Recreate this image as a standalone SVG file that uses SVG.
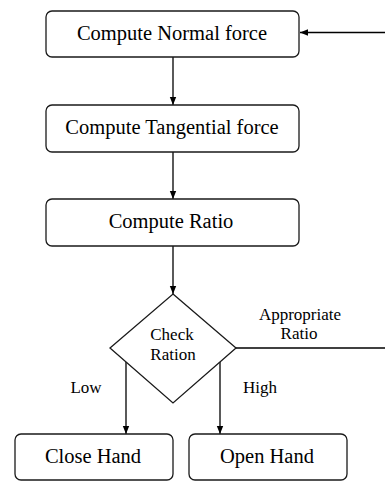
<svg xmlns="http://www.w3.org/2000/svg" width="385" height="481" viewBox="0 0 385 481">
<defs>
<marker id="ah" markerWidth="8" markerHeight="8" refX="8" refY="4" orient="auto" markerUnits="userSpaceOnUse">
<path d="M0,0.8 L8,4 L0,7.2 Z" fill="#000"/>
</marker>
<style>
.box{fill:#fff;stroke:#1a1a1a;stroke-width:1.3}
.t{font-family:"Liberation Serif","Times New Roman",serif;font-size:20.5px;fill:#000;text-anchor:middle}
.s{font-family:"Liberation Serif","Times New Roman",serif;font-size:17px;fill:#000;text-anchor:middle}
.c{fill:none;stroke:#000;stroke-width:1.3}
</style>
</defs>
<rect width="385" height="481" fill="#fff"/>
<g id="connectors">
<line class="c" x1="385" y1="32.5" x2="300" y2="32.5" marker-end="url(#ah)"/>
<line class="c" x1="173" y1="57" x2="173" y2="105" marker-end="url(#ah)"/>
<line class="c" x1="173" y1="152" x2="173" y2="199" marker-end="url(#ah)"/>
<line class="c" x1="173" y1="246" x2="173" y2="294" marker-end="url(#ah)"/>
<line class="c" x1="126" y1="362" x2="126" y2="434" marker-end="url(#ah)"/>
<line class="c" x1="220" y1="361" x2="220" y2="434" marker-end="url(#ah)"/>
<line class="c" x1="235" y1="348" x2="385" y2="348"/>
<text class="s" x="300" y="320">Appropriate</text>
<text class="s" x="299" y="339">Ratio</text>
<text class="s" x="86" y="393">Low</text>
<text class="s" x="260" y="393">High</text>
</g>
<g id="normal">
<rect class="box" x="46" y="11" width="253" height="46" rx="6"/>
<text class="t" x="172" y="40">Compute Normal force</text>
</g>
<g id="tangential">
<rect class="box" x="46" y="105" width="253" height="47" rx="6"/>
<text class="t" x="172" y="134">Compute Tangential force</text>
</g>
<g id="ratio">
<rect class="box" x="46" y="199" width="253" height="47" rx="6"/>
<text class="t" x="171" y="228">Compute Ratio</text>
</g>
<g id="check">
<polygon class="box" points="173,294 236,348 173,403 110,348"/>
<text class="s" x="172" y="340">Check</text>
<text class="s" x="173" y="360">Ration</text>
</g>
<g id="close">
<rect class="box" x="15" y="434" width="158" height="46" rx="6"/>
<text class="t" x="93" y="463">Close Hand</text>
</g>
<g id="open">
<rect class="box" x="189" y="434" width="158" height="46" rx="6"/>
<text class="t" x="267" y="463">Open Hand</text>
</g>
</svg>
